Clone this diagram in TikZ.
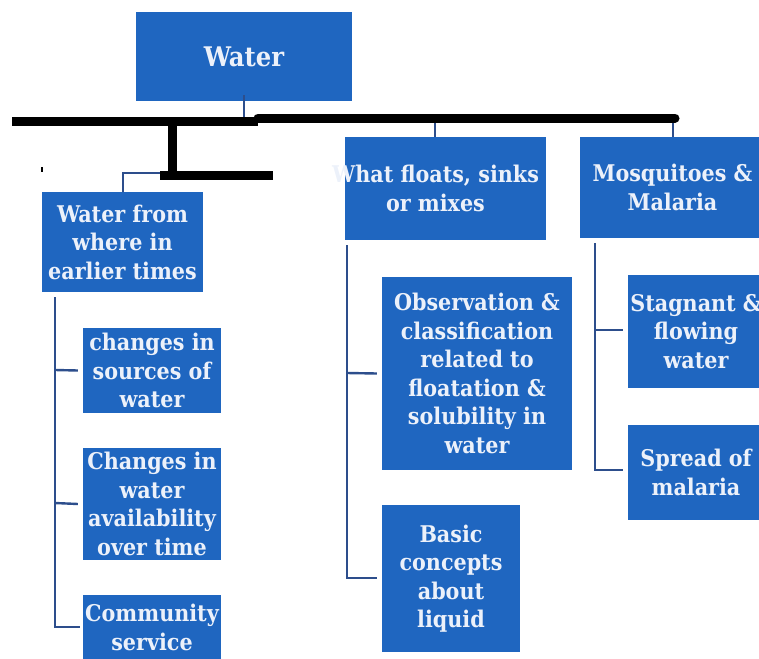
\documentclass[tikz,border=0pt]{standalone}
\usepackage{fontspec}
\setmainfont{DejaVu Serif Condensed}
\definecolor{boxblue}{RGB}{31,102,192}
\definecolor{txt}{RGB}{236,241,250}
\definecolor{conn}{RGB}{45,78,140}
\newcommand{\shiftline}[1]{\makebox[0pt]{\kern-20pt #1}}
\begin{document}
\begin{tikzpicture}[x=1pt,y=-1pt,
  box/.style={fill=boxblue,draw=none,text=txt,align=center,inner sep=0pt,
    font=\bfseries\fontsize{23}{28.5}\selectfont},
  bar/.style={line width=9pt,black},
  conline/.style={line width=2.4pt,conn}]
\useasboundingbox (0,0) rectangle (759,658);
% boxes
\node[box,minimum width=216pt,minimum height=89pt,font=\bfseries\fontsize{27}{30}\selectfont] (water) at (244,56.5) {Water};
\node[box,minimum width=161pt,minimum height=100pt] (earlier) at (122.5,242) {Water from\\where in\\earlier times};
\node[box,minimum width=138pt,minimum height=85pt] (src) at (152,370.5) {changes in\\sources of\\water};
\node[box,minimum width=138pt,minimum height=112pt] (avail) at (152,504) {Changes in\\water\\availability\\over time};
\node[box,minimum width=138pt,minimum height=65pt] (comm) at (152,627.5) {Community\\service};
\node[box,minimum width=201pt,minimum height=103pt] (floats) at (445.5,188.5) {\shiftline{What floats, sinks}\\\shiftline{or mixes}};
\node[box,minimum width=185pt,minimum height=101pt] (mosq) at (672.5,187.5) {Mosquitoes \&\\Malaria};
\node[box,minimum width=190pt,minimum height=193pt] (obs) at (477,373.5) {Observation \&\\classification\\related to\\floatation \&\\solubility in\\water};
\node[box,minimum width=138pt,minimum height=147pt] (basic) at (451,578.5) {Basic\\concepts\\about\\liquid};
\node[box,minimum width=136pt,minimum height=113pt] (stag) at (696,331.5) {Stagnant \&\\flowing\\water};
\node[box,minimum width=136pt,minimum height=95pt] (spread) at (696,472.5) {Spread of\\malaria};
% coordinates
\coordinate (b1) at (12,121);
\coordinate (b2) at (258,121);
\coordinate (b3) at (258,118);
\coordinate (b4) at (675,118);
\coordinate (v1) at (172,121);
\coordinate (v2) at (172,175);
\coordinate (h1) at (160,175);
\coordinate (h2) at (273,175);
\coordinate (wt) at (244,118);
\coordinate (ft) at (435,123);
\coordinate (mt) at (673,123);
\coordinate (ec) at (160,173);
\coordinate (l1) at (55,297);
\coordinate (l2) at (55,627);
\coordinate (f1) at (347,245);
\coordinate (f2) at (347,578);
\coordinate (m1) at (595,243);
\coordinate (m2) at (595,470);
% blue connectors
\draw[conline] ([yshift=6pt]water.south) -- (wt);
\draw[conline] (ft) -- (ft |- floats.north);
\draw[conline] (mt) -- (mt |- mosq.north);
\draw[conline] (ec) -- (123,173) -- (123,192) -- (earlier.north -| 123,0);
\draw[conline] (l1) -- (l2) -- ([xshift=-3pt]comm.west |- l2);
\draw[conline] (55,370) -- ([xshift=-5pt]src.west);
\draw[conline] (55,503) -- ([xshift=-5pt]avail.west);
\draw[conline] (f1) -- (f2) -- ([xshift=-5pt]basic.west |- f2);
\draw[conline] (347,373) -- ([xshift=-5pt]obs.west);
\draw[conline] (m1) -- (m2) -- ([xshift=-5pt]spread.west |- m2);
\draw[conline] (595,330) -- ([xshift=-5pt]stag.west |- 0,330);
% black bars
\draw[bar] (b1) -- (b2);
\draw[bar,line cap=round] (b3) -- (b4);
\draw[bar] (v1) -- (v2);
\draw[bar] (h1) -- (h2);
\draw[line width=1.6pt,black] (42,167) -- (42,172);
\end{tikzpicture}
\end{document}
